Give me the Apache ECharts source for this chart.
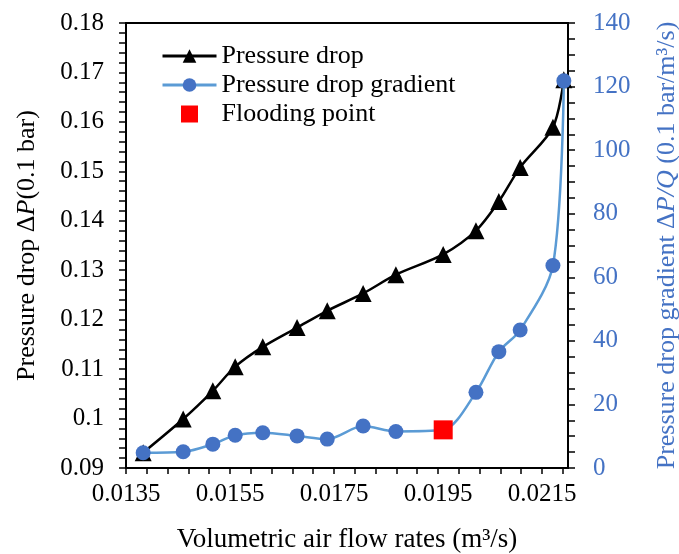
<!DOCTYPE html>
<html>
<head>
<meta charset="utf-8">
<script src="https://cdn.jsdelivr.net/npm/echarts@6/dist/echarts.min.js"></script>
<style>html,body{margin:0;padding:0;background:#fff;}#c{width:679px;height:554px;}</style>
</head>
<body>
<div id="c"></div>
<script>
// Data
const airFlow = [0.01383, 0.01460, 0.01517, 0.01560, 0.01613, 0.01679, 0.01737, 0.01806, 0.01869, 0.01960, 0.02023, 0.02067, 0.02108, 0.02171, 0.02192];
const pressureDrop = [0.0931, 0.0999, 0.1056, 0.1105, 0.1145, 0.1184, 0.1218, 0.1253, 0.1291, 0.1332, 0.1380, 0.1439, 0.1508, 0.1589, 0.1685];
const gradient = [4.8, 5.1, 7.5, 10.3, 11.1, 10.1, 9.1, 13.2, 11.5, 12.0, 23.8, 36.6, 43.4, 63.7, 121.8];
const floodingX = [0.0196];
const floodingY = [12.0];
const xLabels = [0.0135, 0.0155, 0.0175, 0.0195, 0.0215];
const xTicks = [0.0135,0.0139,0.0143,0.0147,0.0151,0.0155,0.0159,0.0163,0.0167,0.0171,0.0175,0.0179,0.0183,0.0187,0.0191,0.0195,0.0199,0.0203,0.0207,0.0211,0.0215,0.0219];

const FONT = "'Liberation Serif','Times New Roman',serif";
const BLUE = '#4472C4';
const chart = echarts.init(document.getElementById('c'));
chart.setOption({
  animation: false,
  backgroundColor: '#fff',
  textStyle: {fontFamily: FONT},
  grid: {left: 126, right: 111, top: 23, bottom: 86, show: true, borderColor: '#000', borderWidth: 2, containLabel: false, outerBoundsMode: 'none'},
  legend: {
    left: 156, top: 38, orient: 'vertical', itemWidth: 54, itemHeight: 17, itemGap: 3,
    textStyle: {fontFamily: FONT, fontSize: 26, color: '#000'},
    lineStyle: {width: 3},
    data: [
      {name: 'Pressure drop', lineStyle: {width: 3, color: '#000'}},
      {name: 'Pressure drop gradient', lineStyle: {width: 3, color: '#5B9BD5'}},
      {name: 'Flooding point', icon: 'path://M0,0L10,0L10,10L0,10Z'}
    ]
  },
  xAxis: {
    type: 'value', min: 0.0135, max: 0.022,
    name: 'Volumetric air flow rates (m³/s)', nameLocation: 'middle', nameGap: 58,
    nameTextStyle: {fontFamily: FONT, fontSize: 27, color: '#000'},
    axisLine: {lineStyle: {color: '#000', width: 2}},
    axisTick: {show: true, length: 6, customValues: xTicks, lineStyle: {color: '#000', width: 1.5}},
    axisLabel: {customValues: xLabels, formatter: v => v.toFixed(4), fontFamily: FONT, fontSize: 25, color: '#000', margin: 14},
    splitLine: {show: false}
  },
  yAxis: [
    {
      type: 'value', min: 0.09, max: 0.18, interval: 0.01, position: 'left',
      name: '{a|Pressure drop Δ}{i|P}{a|(0.1 bar)}', nameLocation: 'middle', nameGap: 86,
      nameTextStyle: {rich: {a: {fontFamily: FONT, fontSize: 26, color: '#000'}, i: {fontFamily: FONT, fontSize: 26, fontStyle: 'italic', color: '#000'}}},
      axisLine: {show: true, lineStyle: {color: '#000', width: 2}},
      axisTick: {show: true, length: 7, lineStyle: {color: '#000', width: 1.5}},
      minorTick: {show: true, splitNumber: 5, length: 7, lineStyle: {color: '#000', width: 1.5}},
      axisLabel: {fontFamily: FONT, fontSize: 25, color: '#000', margin: 22, formatter: v => String(+v.toFixed(2))},
      splitLine: {show: false}
    },
    {
      type: 'value', min: 0, max: 140, interval: 20, position: 'right',
      name: '{a|Pressure drop gradient Δ}{i|P/Q}{a| (0.1 bar/m³/s)}', nameLocation: 'middle', nameGap: 86,
      nameTextStyle: {rich: {a: {fontFamily: FONT, fontSize: 26, color: BLUE}, i: {fontFamily: FONT, fontSize: 26, fontStyle: 'italic', color: BLUE}}},
      axisLine: {show: true, lineStyle: {color: '#000', width: 2}},
      axisTick: {show: true, length: 7, lineStyle: {color: '#000', width: 1.5}},
      minorTick: {show: true, splitNumber: 4, length: 7, lineStyle: {color: '#000', width: 1.5}},
      axisLabel: {fontFamily: FONT, fontSize: 25, color: BLUE, margin: 25},
      splitLine: {show: false}
    }
  ],
  series: [
    {
      name: 'Pressure drop', type: 'line', yAxisIndex: 0, smooth: 0.3,
      data: airFlow.map((x, i) => [x, pressureDrop[i]]),
      symbol: 'triangle', symbolSize: 17,
      lineStyle: {color: '#000', width: 2.5}, itemStyle: {color: '#000'}, z: 2
    },
    {
      name: 'Pressure drop gradient', type: 'line', yAxisIndex: 1, smooth: 0.3,
      data: airFlow.map((x, i) => [x, gradient[i]]),
      symbol: 'circle', symbolSize: 15,
      lineStyle: {color: '#5B9BD5', width: 2.5}, itemStyle: {color: BLUE}, z: 3
    },
    {
      name: 'Flooding point', type: 'scatter', yAxisIndex: 1,
      data: floodingX.map((x, i) => [x, floodingY[i]]),
      symbol: 'rect', symbolSize: 19, itemStyle: {color: '#FF0000', opacity: 1}, z: 4
    }
  ]
});
</script>
</body>
</html>
